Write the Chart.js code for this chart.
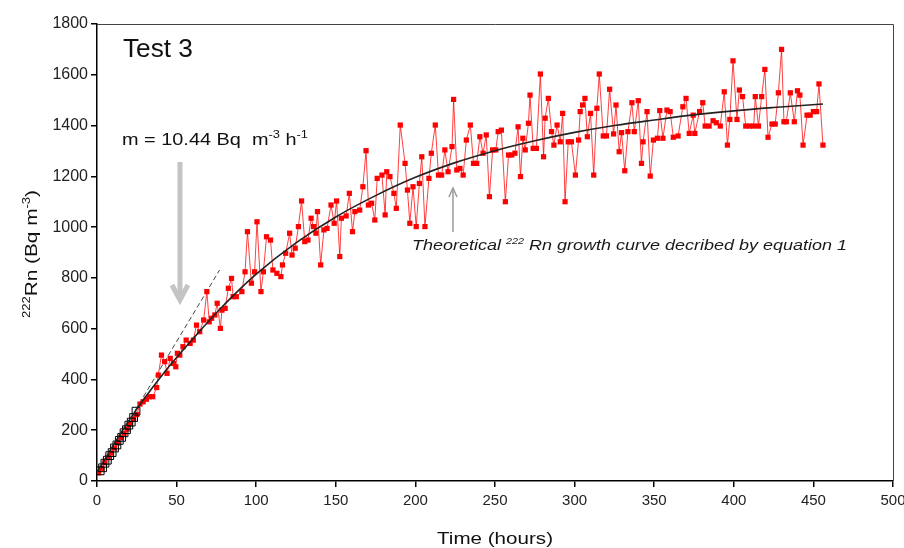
<!DOCTYPE html>
<html><head><meta charset="utf-8">
<script src="https://cdn.jsdelivr.net/npm/chart.js@4.4.1/dist/chart.umd.min.js"></script>
<style>html,body{margin:0;padding:0;background:#fff}#wrap{width:904px;height:548px}</style>
</head><body><div id="wrap"><canvas id="c" width="904" height="548"></canvas></div>
<script>
// ---- data ----
const xTickValues = [0,50,100,150,200,250,300,350,400,450,500];
const yTickValues = [0,200,400,600,800,1000,1200,1400,1600,1800];

// measured 222Rn (red)
const redTime = [
 1,3,5,7,9,11,13,15,17,19,
 21,23,25,27,29,31,33,35,37.5,38.5,
 40.5,42.5,44,46,48,49.5,50.5,52,54,56,
 58.5,60.5,62.5,64.5,67,69,70.5,72,74,75.5,
 77.5,78.5,80.5,82.5,84.5,85.5,87.5,91,93,94.5,
 97,99,100.5,103,104.5,106.5,109,110.5,113,115.5,
 116.5,118.5,121,122.5,124.5,126.5,128.5,130.5,132.5,134.5,
 136,137.5,138.5,140.5,142.5,144.5,147,149,150.5,152.5,
 153.5,156.5,158.5,160.5,162,165,167,169,170.5,172.5,
 174.5,176,179,181,182,184,186.5,188,190.5,193.5,
 195,196.5,198.5,200.5,202.5,204,206,208.5,210,212.5,
 214.5,216.5,218.5,220.5,223,224,226,228,230,232,
 234.5,236.5,238.5,240.5,242.5,244.5,246.5,248.5,250.5,252,
 254,256.5,258.5,260.5,262.5,264.5,266,267.5,269,271,
 272,274,276,278.5,280.5,281.5,283.5,285.5,287,289,
 291,292.5,294,296,298,300.5,302.5,303.5,305,306.5,
 308,310,312,314,315.5,318,320,322,324.5,326,
 328,329.5,331.5,333.5,336,337.5,340,342,343,345.5,
 347.5,349.5,352,353.5,355.5,358,360,362,365,368,
 370,372,374.5,375.5,378.5,380.5,382,384.5,387,389,
 391.5,394,396,397.5,399.5,402,403.5,405.5,407.5,410,
 412.5,413.5,415.5,417.5,419.5,421.5,424,426,428,430,
 431.5,433,435.5,438,440,441.5,443.5,446,448,450,
 452,453.5,456
];
const redValues = [
 32,50,72,92,110,130,150,170,188,205,
 225,245,262,303,312,322,332,332,368,417,
 496,470,424,483,463,450,503,496,529,555,
 542,555,614,588,634,746,627,641,654,700,
 601,673,680,759,798,726,726,746,824,982,
 779,824,1021,746,824,962,949,831,818,805,
 851,897,976,890,917,1002,1103,943,949,1035,
 1002,976,1061,851,989,995,1087,1015,1103,884,
 1035,1044,1133,982,1061,1067,1159,1301,1087,1094,
 1028,1192,1205,1048,1218,1199,1133,1074,1402,1251,
 1146,1015,1159,1002,1172,1277,1002,1192,1291,1402,
 1205,1205,1304,1218,1317,1503,1225,1231,1205,1343,
 1402,1251,1251,1356,1291,1363,1120,1304,1304,1376,
 1382,1100,1284,1284,1291,1395,1199,1350,1304,1409,
 1520,1310,1310,1603,1277,1429,1507,1376,1323,1402,
 1336,1448,1100,1336,1336,1205,1343,1455,1481,1507,
 1356,1448,1205,1468,1603,1359,1359,1543,1367,1481,
 1297,1372,1222,1376,1490,1376,1498,1251,1336,1455,
 1201,1343,1350,1459,1350,1461,1455,1354,1359,1474,
 1507,1369,1441,1369,1455,1490,1398,1398,1419,1411,
 1398,1533,1323,1424,1655,1424,1540,1514,1398,1398,
 1398,1514,1398,1514,1621,1354,1406,1406,1529,1700,
 1415,1415,1529,1415,1537,1520,1323,1441,1441,1455,
 1455,1564,1323
];

// early points used for the linear fit (open squares)
const fitTime   = [2,3.5,5,6.5,8,9.5,11,12.5,14,15.5,17,18.5,20,21.5,23,24.5];
const fitValues = [40,52,70,82,100,112,130,142,160,172,190,202,220,232,250,275];

// theoretical growth curve
const curveTime   = [0,20,40,60,80,100,125,150,175,200,225,250,275,300,325,350,375,400,425,456];
const curveValues = [35,238,410,558,695,815,938,1040,1124,1196,1254,1301,1340,1373,1400,1422,1442,1458,1471,1485];

// initial slope line (m = 10.44)
const tangentTime   = [24,77];
const tangentValues = [278,831];

const pts = (xs, ys) => xs.map((x, i) => ({x, y: ys[i]}));
const FAM = '"Liberation Sans", Arial, Helvetica, sans-serif';

function drawRich(ctx, parts, size, italic, targetW){
  const st = italic ? 'italic ' : '';
  let w = 0; const segs = [];
  for (const p of parts){
    const fs = p.sup ? Math.round(size*0.62) : size;
    ctx.font = st + fs + 'px ' + FAM;
    const mw = ctx.measureText(p.t).width;
    segs.push({p, fs, mw}); w += mw;
  }
  const sx = targetW ? targetW / w : 1;
  ctx.save(); ctx.scale(sx, 1);
  let cx = 0;
  for (const s of segs){
    ctx.font = st + s.fs + 'px ' + FAM;
    ctx.fillText(s.p.t, cx, s.p.sup ? -size*0.42 : 0);
    cx += s.mw;
  }
  ctx.restore();
}

function arrow(ctx, x, y0, y1, lw, wing, headLen, color){
  const dir = y1 > y0 ? 1 : -1;
  ctx.save();
  ctx.strokeStyle = color; ctx.lineWidth = lw; ctx.lineCap = 'butt';
  ctx.beginPath(); ctx.moveTo(x, y0); ctx.lineTo(x, y1 - dir*lw*0.3); ctx.stroke();
  ctx.beginPath();
  ctx.moveTo(x - wing, y1 - dir*headLen); ctx.lineTo(x, y1); ctx.lineTo(x + wing, y1 - dir*headLen);
  ctx.stroke();
  ctx.restore();
}

const annot = {
  id: 'annot',
  afterDraw(chart){
    const ctx = chart.ctx, xs = chart.scales.x, ys = chart.scales.y, ca = chart.chartArea;
    ctx.save();
    ctx.strokeStyle = '#444'; ctx.lineWidth = 1;
    ctx.beginPath();
    ctx.moveTo(ca.left, ca.top + 0.5); ctx.lineTo(ca.right + 0.5, ca.top + 0.5); ctx.lineTo(ca.right + 0.5, ca.bottom);
    ctx.stroke();

    ctx.fillStyle = '#111'; ctx.textBaseline = 'alphabetic'; ctx.textAlign = 'left';
    ctx.save(); ctx.translate(xs.getPixelForValue(16.3), ys.getPixelForValue(1670));
    drawRich(ctx, [{t:'Test 3'}], 25, false, 70); ctx.restore();
    ctx.save(); ctx.translate(xs.getPixelForValue(15.7), ys.getPixelForValue(1323));
    drawRich(ctx, [{t:'m = 10.44 Bq  m'},{t:'-3',sup:true},{t:' h'},{t:'-1',sup:true}], 17, false, 186); ctx.restore();
    ctx.fillStyle = '#1a1a1a';
    ctx.save(); ctx.translate(xs.getPixelForValue(197.9), ys.getPixelForValue(910));
    drawRich(ctx, [{t:'Theoretical '},{t:'222',sup:true},{t:' Rn growth curve decribed by equation 1'}], 15, true, 435); ctx.restore();

    arrow(ctx, xs.getPixelForValue(52.1), ys.getPixelForValue(1256), ys.getPixelForValue(713), 5, 8, 15, '#c4c4c4');
    arrow(ctx, xs.getPixelForValue(223.6), ys.getPixelForValue(981), ys.getPixelForValue(1154), 1.5, 4, 9, '#9a9a9a');

    ctx.fillStyle = '#111';
    ctx.save(); ctx.translate(ca.left - 60, ca.bottom - 163); ctx.rotate(-Math.PI/2);
    drawRich(ctx, [{t:'222',sup:true},{t:'Rn (Bq m'},{t:'-3',sup:true},{t:')'}], 16, false, 128); ctx.restore();
    ctx.save();
    const tw = 116;
    ctx.translate((ca.left + ca.right)/2 - tw/2, ca.bottom + 63);
    drawRich(ctx, [{t:'Time (hours)'}], 17, false, tw); ctx.restore();
    ctx.restore();
  }
};

new Chart(document.getElementById('c'), {
  type: 'scatter',
  data: {
    datasets: [
      { label: 'Theoretical', data: pts(curveTime, curveValues), showLine: true, tension: 0.4,
        borderColor: '#222', borderWidth: 1.6, pointRadius: 0, order: 0 },
      { label: 'Fit points', data: pts(fitTime, fitValues), showLine: false, pointStyle: 'rect',
        pointRadius: 5.5, pointBorderColor: '#000', pointBackgroundColor: 'rgba(0,0,0,0)', pointBorderWidth: 1, order: 1 },
      { label: '222Rn', data: pts(redTime, redValues), showLine: true, tension: 0,
        borderColor: 'rgba(255,0,0,0.75)', borderWidth: 1, pointStyle: 'rect', pointRadius: 3.7,
        pointBackgroundColor: '#ff0000', pointBorderColor: '#ff0000', pointBorderWidth: 0, order: 2 },
      { label: 'slope', data: pts(tangentTime, tangentValues), showLine: true, borderColor: '#444',
        borderWidth: 1, borderDash: [5,3], pointRadius: 0, order: 3 }
    ]
  },
  options: {
    responsive: false, animation: false, devicePixelRatio: 1,
    layout: { padding: { top: 24, right: 11, left: 0, bottom: 0 } },
    plugins: { legend: { display: false }, tooltip: { enabled: false } },
    scales: {
      x: {
        type: 'linear', min: 0, max: 500,
        afterFit: s => { s.height = 67; s.paddingRight = 0; },
        afterBuildTicks: s => { s.ticks = xTickValues.map(v => ({value: v})); },
        ticks: { color: '#222', font: { family: FAM, size: 15 }, padding: 5, maxRotation: 0, autoSkip: false,
                 callback: v => String(v) },
        grid: { drawOnChartArea: false, drawTicks: true, tickLength: 6, color: '#000', lineWidth: 1.5 },
        border: { display: true, color: '#000', width: 1.5 }
      },
      y: {
        type: 'linear', min: 0, max: 1800,
        afterFit: s => { s.width = 97; },
        afterBuildTicks: s => { s.ticks = yTickValues.map(v => ({value: v})); },
        ticks: { color: '#222', font: { family: FAM, size: 16 }, padding: 3, autoSkip: false,
                 callback: v => String(v) },
        grid: { drawOnChartArea: false, drawTicks: true, tickLength: 6, color: '#000', lineWidth: 1.5 },
        border: { display: true, color: '#000', width: 1.5 }
      }
    }
  },
  plugins: [annot]
});
</script>
</body></html>
